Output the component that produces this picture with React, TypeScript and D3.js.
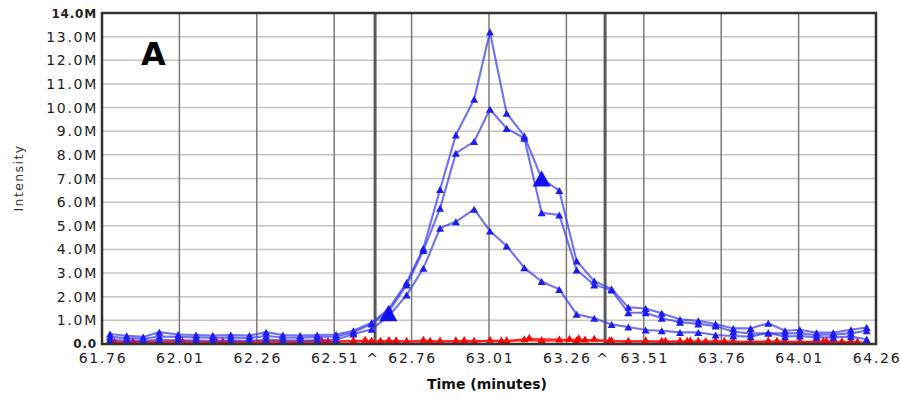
import React from 'react';
import * as d3 from 'd3';

// Retention times (minutes) of the blue chromatogram points
const times = [
  61.786, 61.840, 61.893, 61.945, 62.006, 62.064, 62.118, 62.176, 62.236, 62.290,
  62.344, 62.400, 62.455, 62.516, 62.572, 62.631, 62.687, 62.744, 62.798, 62.852,
  62.903, 62.962, 63.013, 63.067, 63.124, 63.180, 63.237, 63.293, 63.350, 63.406,
  63.460, 63.516, 63.568, 63.627, 63.686, 63.742, 63.799, 63.855, 63.912, 63.966,
  64.014, 64.068, 64.122, 64.179, 64.230,
];
// Intensities in millions
const seriesA = [
  0.42, 0.35, 0.30, 0.50, 0.40, 0.38, 0.36, 0.38, 0.36, 0.50,
  0.38, 0.36, 0.38, 0.40, 0.56, 0.90, 1.50, 2.60, 4.05, 6.54,
  8.84, 10.35, 13.20, 9.76, 8.80, 7.00, 6.49, 3.51, 2.66, 2.33,
  1.55, 1.50, 1.30, 1.04, 0.98, 0.85, 0.66, 0.66, 0.88, 0.56,
  0.60, 0.48, 0.48, 0.60, 0.70,
];
const seriesB = [
  0.30, 0.25, 0.22, 0.32, 0.30, 0.28, 0.27, 0.27, 0.26, 0.34,
  0.28, 0.27, 0.30, 0.32, 0.50, 0.85, 1.40, 2.50, 3.95, 5.74,
  8.07, 8.56, 9.93, 9.12, 8.70, 5.55, 5.46, 3.13, 2.50, 2.28,
  1.32, 1.32, 1.09, 0.92, 0.85, 0.76, 0.52, 0.45, 0.45, 0.45,
  0.45, 0.38, 0.40, 0.45, 0.56,
];
const seriesC = [
  0.18, 0.15, 0.14, 0.18, 0.16, 0.15, 0.14, 0.15, 0.14, 0.18,
  0.16, 0.15, 0.16, 0.18, 0.42, 0.62, 1.20, 2.07, 3.20, 4.90,
  5.17, 5.70, 4.78, 4.15, 3.23, 2.64, 2.31, 1.26, 1.09, 0.83,
  0.72, 0.59, 0.56, 0.49, 0.49, 0.38, 0.34, 0.31, 0.48, 0.31,
  0.34, 0.28, 0.28, 0.31, 0.20,
];
const red1 = [
  0.10, 0.08, 0.10, 0.09, 0.12, 0.10, 0.08, 0.11, 0.09, 0.12,
  0.10, 0.09, 0.12, 0.10, 0.12, 0.10, 0.13, 0.09, 0.14, 0.11,
  0.12, 0.10, 0.14, 0.12, 0.16, 0.13, 0.15, 0.12, 0.18, 0.12,
  0.10, 0.12, 0.09, 0.11, 0.10, 0.12, 0.09, 0.08, 0.11, 0.09,
  0.08, 0.10, 0.09, 0.08, 0.07,
];
const redTimes2 = [
  61.80, 61.86, 62.02, 62.13, 62.15, 62.46, 62.47, 62.49, 62.61, 62.66,
  62.71, 62.82, 62.93, 63.05, 63.14, 63.27, 63.30, 63.32, 63.40, 63.58,
  63.65, 63.66, 63.71, 63.77, 63.94, 64.09, 64.10, 64.15, 64.20,
];
const red2 = [
  0.06, 0.08, 0.07, 0.09, 0.08, 0.10, 0.12, 0.09, 0.14, 0.10,
  0.12, 0.09, 0.13, 0.11, 0.22, 0.18, 0.20, 0.15, 0.12, 0.10,
  0.09, 0.11, 0.08, 0.10, 0.09, 0.08, 0.10, 0.07, 0.06,
];
// Large apex / event markers
const markerTimes = [62.685, 63.180];
const markerValues = [1.30, 7.00];

const xGridTicks = [62.01, 62.26, 62.51, 62.76, 63.01, 63.26, 63.51, 63.76, 64.01];
const xTickLabels = ['61.76', '62.01', '62.26', '62.51', '62.76', '63.01', '63.26', '63.51', '63.76', '64.01', '64.26'];
const boundaryTimes = [62.642, 63.385];
const yTicks = [0, 1, 2, 3, 4, 5, 6, 7, 8, 9, 10, 11, 12, 13, 14];

const W = 901;
const H = 398;
const L = 102, R = 876, T = 13, B = 344;

function tri(x: number, y: number, w: number, h: number) {
  return `M${x},${y - h / 2}L${x + w / 2},${y + h / 2}L${x - w / 2},${y + h / 2}Z`;
}

export default function App() {
  const x = d3.scaleLinear().domain([61.76, 64.26]).range([L, R]);
  const y = d3.scaleLinear().domain([0, 14]).range([B, T]);
  const line = d3
    .line<[number, number]>()
    .x((d) => x(d[0]))
    .y((d) => y(d[1]));

  const blue = [seriesA, seriesB, seriesC].map((s) => s.map((v, i) => [times[i], v] as [number, number]));
  const reds = [
    red1.map((v, i) => [times[i], v] as [number, number]),
    red2.map((v, i) => [redTimes2[i], v] as [number, number]),
  ];

  const font = 'DejaVu Sans, Verdana, sans-serif';

  return (
    <svg width={W} height={H} style={{ position: 'absolute', left: 0, top: 0, background: '#fff' }}>
      {/* horizontal grid */}
      {yTicks.map((t) => (
        <line key={'h' + t} x1={L} x2={R} y1={y(t)} y2={y(t)} stroke="#c4c4c4" strokeWidth={1.5} />
      ))}
      {/* vertical grid */}
      {xGridTicks.map((t) => (
        <line key={'v' + t} x1={x(t)} x2={x(t)} y1={T} y2={B} stroke="#7a7a7a" strokeWidth={1.5} />
      ))}
      {boundaryTimes.map((t) => (
        <line key={'b' + t} x1={x(t)} x2={x(t)} y1={T} y2={B} stroke="#5a5a5a" strokeWidth={3} />
      ))}

      {/* red series */}
      {reds.map((s, k) => (
        <g key={'r' + k}>
          <path d={line(s) || ''} fill="none" stroke="#ff1010" strokeOpacity={0.8} strokeWidth={2.2} />
          {s.map((d, i) => (
            <path key={i} d={tri(x(d[0]), y(d[1]) - 1.5, 8, 7)} fill="#ff0000" />
          ))}
        </g>
      ))}

      {/* blue series */}
      {blue.map((s, k) => (
        <g key={'bl' + k}>
          <path d={line(s) || ''} fill="none" stroke="#3a3af2" strokeOpacity={0.72} strokeWidth={2.1} />
          {s.map((d, i) => (
            <path key={i} d={tri(x(d[0]), y(d[1]), 8, 7)} fill="#1c1cf0" />
          ))}
        </g>
      ))}

      {/* large markers */}
      {markerTimes.map((t, i) => (
        <path key={'m' + i} d={tri(x(t), y(markerValues[i]), 18, 16)} fill="#1010f0" />
      ))}

      {/* frame */}
      <rect x={L} y={T} width={R - L} height={B - T} fill="none" stroke="#333" strokeWidth={2.5} />

      {/* y tick labels */}
      {yTicks.map((t) => {
        const bold = t === 0 || t === 14;
        const label = t === 0 ? '0.0' : t.toFixed(1) + 'M';
        return (
          <text
            key={'yl' + t}
            x={bold ? 97 : 98}
            y={t === 0 ? y(t) + 3.5 : y(t) + 5}
            textAnchor="end"
            fontFamily={font}
            fontSize={bold ? 12 : 14}
            fontWeight={bold ? 'bold' : 'normal'}
            letterSpacing={bold ? 0.8 : 1.7}
            fill="#222"
          >
            {label}
          </text>
        );
      })}

      {/* x tick labels */}
      {xTickLabels.map((lb) => (
        <text
          key={'xl' + lb}
          x={x(+lb) + 1}
          y={362.5}
          textAnchor="middle"
          fontFamily={font}
          fontSize={14}
          letterSpacing={1.7}
          fill="#222"
        >
          {lb}
        </text>
      ))}
      {boundaryTimes.map((t) => (
        <text key={'c' + t} x={x(t) - 3} y={364} textAnchor="middle" fontFamily={font} fontSize={14} fill="#222">
          ^
        </text>
      ))}

      {/* axis titles */}
      <text x={487} y={389} textAnchor="middle" fontFamily={font} fontSize={14} fontWeight="bold" fill="#111">
        Time (minutes)
      </text>
      <text
        transform="translate(23,178) rotate(-90)"
        textAnchor="middle"
        fontFamily={font}
        fontSize={12.5}
        letterSpacing={1.4}
        fill="#333"
      >
        Intensity
      </text>

      {/* panel label */}
      <text x={141} y={65} fontFamily={font} fontSize={32} fontWeight="bold" fill="#000">
        A
      </text>
    </svg>
  );
}
